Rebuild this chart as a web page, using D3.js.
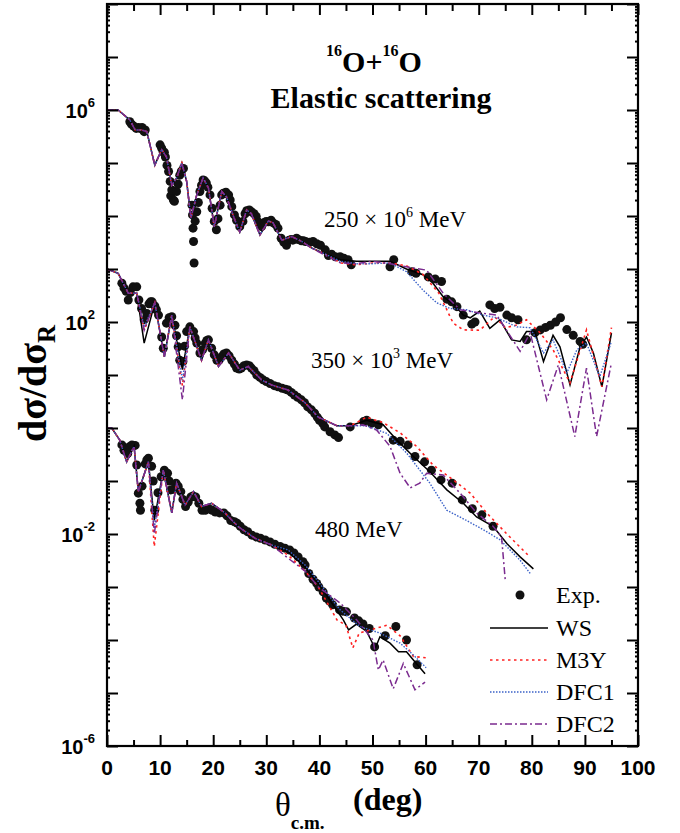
<!DOCTYPE html>
<html>
<head>
<meta charset="utf-8">
<script src="https://cdn.jsdelivr.net/npm/d3@7"></script>
<style>
  body { margin: 0; background: #fff; }
  svg text { fill: #000; }
  .tick-lab { font-family: "Liberation Sans", Arial, sans-serif; font-weight: bold; }
  .serif { font-family: "Liberation Serif", "Times New Roman", serif; }
</style>
</head>
<body>
<div class="myChart"></div>
<script>
var svgWidth = 680;
var svgHeight = 833;

// plot box in page pixels
var box = { left: 107, right: 638, top: 4, bottom: 746 };

// ---- data: [theta c.m. (deg), dsigma/dsigma_R] ----
var energies = ["250", "350", "480"];
var offsets = [1e6, 1e3, 1];

// 250 MeV
var exp250 = [[4.3,0.60],[4.6,0.54],[5.0,0.50],[5.5,0.45],[5.9,0.47],[6.2,0.45],[6.6,0.47],[7.0,0.39],[7.2,0.42],
  [10.0,0.22],[10.3,0.19],[10.6,0.16],[10.8,0.16],[11.0,0.13],[11.3,0.09],
  [11.6,0.069],[11.9,0.045],[12.0,0.024],[12.2,0.031],[12.5,0.020],[12.7,0.019],[13.1,0.029],[13.4,0.04],[13.7,0.059],
  [14.0,0.07],[14.4,0.079],[16.0,0.016],
  [16.1,0.0105],[16.2,0.0059],[16.3,0.0033],[16.4,0.0013],[16.6,0.008],[16.9,0.012],[17.2,0.018],[17.5,0.029],[17.8,0.038],
  [18.1,0.048],[18.4,0.046],[18.7,0.042],[19.0,0.035],[19.4,0.025],[19.8,0.014],[20.2,0.0079],[20.6,0.0055],[20.9,0.0089],
  [21.3,0.016],[21.6,0.025],[21.9,0.027],[22.4,0.028],[22.9,0.025],[23.2,0.020],[23.5,0.015],[24.0,0.0105],
  [24.4,0.0083],[25.0,0.0063],[25.6,0.0079],[26.0,0.011],[26.3,0.0126],[26.8,0.013],[27.2,0.012],[27.7,0.011],[28.1,0.0098],
  [28.6,0.0076],[29.1,0.0063],[29.7,0.0076],[30.0,0.0079],[30.4,0.0078],[30.9,0.0083],[31.3,0.0074],[31.8,0.0069],[32.2,0.0059],
  [32.8,0.0038],[33.3,0.0032],[33.8,0.0028],[34.3,0.0035],[34.7,0.0036],[35.0,0.0035],[35.7,0.0038],[36.0,0.0036],[36.6,0.0034],
  [37.0,0.0034],[37.4,0.0033],[38.2,0.0032],[38.8,0.0033],[39.5,0.0030],[40.2,0.0028],[41.1,0.0023],[41.7,0.0018],
  [42.3,0.0019],[43.0,0.0017],[43.9,0.0017],[44.6,0.0016],[45.4,0.0015],
  [46.0,0.0012],[53.3,0.0011],[54.0,0.0015],[57.4,8.9e-4],[58.2,8.3e-4],[60.5,7.1e-4],[61.8,6.5e-4],[63.0,5.8e-4],
  [64.0,2.7e-4],[64.9,2.4e-4],[65.9,1.95e-4],[67.1,1.35e-4],[68.7,9.1e-5],[69.3,1.0e-4],[72.1,2.1e-4],[73.0,1.8e-4],
  [74.0,1.9e-4],[75.3,1.35e-4],[76.2,1.2e-4],[77.4,1.1e-4],[79.0,4.6e-5],[80.6,6.3e-5],[81.6,7.1e-5],[82.6,7.9e-5],
  [83.5,8.7e-5],[84.5,1.0e-4],[85.4,1.2e-4],[86.6,7.2e-5],[87.8,5.6e-5],[89.1,4.3e-5],[89.6,3.8e-5]];

var fwd250 = [[0,1.0],[2.1,1.0],[4.3,0.65],[5.3,0.42],[6.5,0.42],[7.5,0.39],[9.0,0.091],[10.3,0.18],[11.2,0.13],
  [12.2,0.038],[13.1,0.052],[14.1,0.10],[15.0,0.045],[15.8,0.0091],[16.9,0.025],[18.1,0.052],[19.1,0.034],
  [20.2,0.0063],[21.6,0.029],[22.5,0.023],[24.1,0.0083],[25.0,0.0050],[26.3,0.013],[27.2,0.011],[28.8,0.0044],
  [30.4,0.0081],[31.3,0.0074],[32.9,0.0035],[34.8,0.0041],[36.7,0.0033],[38.5,0.0025]];
var ws250Tail = [[40.7,0.0020],[43.9,0.0015],[47.0,0.0014],[50.1,0.0014],[53.3,0.0014],[56.4,0.0010],[59.5,7.8e-4],
  [61.4,5.4e-4],[63.3,3.0e-4],[65.2,2.2e-4],[67.1,1.35e-4],[68.4,1.2e-4],[70.2,1.6e-4],[72.1,7.6e-5],[74.0,1.1e-4],
  [76.2,4.6e-5],[77.8,4.3e-5],[79.0,6.6e-5],[80.6,6.6e-5],[82.2,1.8e-5],[84.0,5.6e-5],[85.3,3.4e-5],[87.2,6.5e-6],
  [89.1,3.4e-5],[90.3,5.2e-5],[91.6,2.6e-5],[93.2,6.0e-6],[95.0,6.2e-5]];
var m3y250Tail = [[40.7,0.0020],[44.0,0.0013],[47.0,0.0012],[50.0,0.0013],[53.3,0.0013],[56.4,0.00115],[59.5,7.9e-4],
  [62.5,3.5e-4],[65.2,9.5e-5],[67.1,7.1e-5],[70.2,7.0e-5],[73.0,1.26e-4],[75.0,7.8e-5],[77.0,8.7e-5],[79.0,1.1e-4],
  [81.6,6.2e-5],[84.0,3.0e-5],[87.2,7.1e-6],[90.3,7.1e-5],[93.2,6.0e-6],[95.0,7.8e-5]];
var dfc1_250Tail = [[40.7,0.0020],[44.0,0.0014],[47.0,0.00126],[50.0,0.00126],[53.3,0.0013],[56.4,8.9e-4],[59.5,4.0e-4],
  [62.1,2.3e-4],[64.6,1.8e-4],[67.7,1.7e-4],[70.8,1.35e-4],[73.4,1.2e-4],[77.2,8.1e-5],[79.7,7.8e-5],[82.2,2.6e-5],
  [84.0,4.6e-5],[86.6,1.1e-5],[88.5,3.0e-5],[90.3,4.0e-5],[92.8,9.3e-6],[95.0,4.3e-5]];
var dfc2_250Tail = [[40.7,0.0019],[44.0,0.0013],[47.0,0.00126],[50.0,0.0014],[53.3,0.00126],[56.4,0.0011],[60.2,9.5e-4],
  [63.3,3.5e-4],[66.5,1.7e-4],[70.0,1.5e-4],[73.4,1.35e-4],[77.8,2.8e-5],[79.7,6.2e-5],[82.8,3.4e-6],[85.0,1.55e-5],
  [88.1,6.9e-7],[90.3,1.35e-5],[92.2,6.9e-7],[95.0,1.7e-5]];

// 350 MeV
var exp350 = [[2.8,0.54],[3.2,0.44],[3.6,0.38],[4.0,0.26],[4.4,0.36],[4.9,0.46],[5.6,0.46],[6.0,0.26],[6.5,0.18],[7.0,0.11],[7.5,0.145],
  [7.9,0.22],[8.2,0.24],[8.5,0.24],[9.0,0.20],[9.3,0.17],[9.7,0.135],[10.3,0.052],[10.6,0.032],[11.2,0.095],[11.7,0.12],
  [12.2,0.126],[12.8,0.087],[13.1,0.055],[13.4,0.034],
  [13.7,0.019],[14.3,0.018],[14.6,0.035],[15.0,0.066],[15.6,0.081],[16.3,0.066],[16.6,0.050],[16.9,0.040],[17.5,0.026],
  [18.0,0.030],[18.5,0.040],[18.8,0.045],
  [19.1,0.046],[19.7,0.032],[20.2,0.024],[20.7,0.019],[21.1,0.019],[21.6,0.022],[22.0,0.025],[22.5,0.026],[23.0,0.023],
  [23.5,0.019],[24.0,0.016],[24.4,0.0135],[24.9,0.013],[25.3,0.0135],[25.8,0.015],
  [26.3,0.0155],[26.8,0.015],[27.2,0.0135],[27.7,0.012],[28.2,0.010],[28.8,0.009],[29.4,0.0081],[30.0,0.0075],[30.7,0.0069],
  [31.5,0.0063],[32.2,0.0060],[33.0,0.0056],[33.6,0.0054],
  [34.1,0.0052],[34.7,0.0047],[35.3,0.0042],[35.9,0.0038],[36.6,0.0034],[37.2,0.0030],[37.8,0.0025],[38.5,0.0022],[39.1,0.0019],
  [39.6,0.0016],[40.0,0.0014],[40.6,0.00123],
  [41.0,0.00105],[42.0,8.5e-4],[42.9,7.4e-4],[43.6,6.6e-4],[45.8,0.00105],[48.3,0.00132],[48.9,0.0014],
  [49.8,0.00123],[51.1,0.00115],[53.9,5.9e-4],[55.2,5.6e-4],[56.7,4.8e-4],[58.0,2.9e-4],[59.8,2.3e-4],[61.1,1.6e-4],
  [62.9,1.05e-4],[65.0,9.1e-5],[66.9,4.4e-5],[68.8,3.0e-5],[70.6,2.3e-5],[72.7,1.4e-5]];

var fwd350 = [[0,1.0],[2.1,0.83],[4.0,0.35],[5.6,0.35],[9.0,0.23],[10.8,0.022],[12.2,0.135],[15.6,0.081],
  [17.8,0.019],[19.1,0.046],[21.0,0.0145],[22.9,0.026],[25.0,0.0123],[26.6,0.0145],[29.1,0.0081],[31.0,0.0065],
  [34.1,0.0052],[37.3,0.0030],[39.8,0.0016],[43.3,0.0011],[45.8,0.0011]];
var wsDip350 = [[7.0,0.040],[14.2,0.0126]];
var m3yDip350 = [[7.0,0.07],[14.2,0.0063]];
var dfc1Dip350 = [[7.0,0.08],[14.2,0.0079]];
var dfc2Dip350 = [[7.0,0.07],[14.2,0.0034]];
var ws350Tail = [[48.9,0.0014],[52.0,0.00115],[54.6,5.9e-4],[57.7,2.9e-4],[60.8,1.5e-4],[64.0,6.8e-5],[67.1,3.8e-5],
  [69.6,2.1e-5],[72.7,1.4e-5],[75.3,6.6e-6],[77.8,3.7e-6],[80.3,2.2e-6]];
var m3y350Tail = [[48.9,0.0016],[52.0,0.00126],[55.2,8.1e-4],[58.3,4.5e-4],[61.4,2.0e-4],[65.2,1.05e-4],[68.4,5.9e-5],
  [71.5,2.5e-5],[75.3,1.0e-5],[79.3,4.0e-6]];
var dfc1_350Tail = [[48.9,0.0011],[52.7,7.9e-4],[56.4,3.4e-4],[60.8,9.1e-5],[64.0,2.8e-5],[67.7,1.8e-5],[70.9,1.2e-5],
  [74.0,7.8e-6],[77.8,3.2e-6],[79.7,1.8e-6]];
var dfc2_350Tail = [[48.2,0.00115],[50.8,9.1e-4],[53.3,4.5e-4],[55.2,1.4e-4],[57.1,7.4e-5],[58.9,9.1e-5],[60.2,1.4e-4],
  [63.3,1.3e-4],[66.5,5.9e-5],[69.6,2.5e-5],[72.7,1.4e-5],[74.3,8.9e-6],[75.0,1.35e-6]];

// 480 MeV
var exp480 = [[2.8,0.48],[3.2,0.38],[3.9,0.33],[4.3,0.45],[4.7,0.48],[5.3,0.47],[5.6,0.20],[5.9,0.059],[6.2,0.038],[6.3,0.028],
  [6.6,0.08],[7.2,0.21],[7.5,0.25],
  [7.8,0.27],[8.4,0.19],[8.7,0.10],[9.0,0.028],[9.6,0.06],[10.2,0.12],[10.8,0.16],[11.4,0.14],[11.7,0.10],[12.0,0.068],
  [12.5,0.07],[13.0,0.091],[13.4,0.08],[13.9,0.063],[14.3,0.045],
  [14.8,0.033],[15.3,0.040],[15.8,0.050],[16.2,0.052],[16.7,0.050],[17.3,0.038],[17.9,0.028],[18.5,0.028],[19.2,0.030],
  [19.8,0.028],[20.4,0.026],[21.2,0.025],[22.0,0.025],[22.6,0.022],[23.3,0.018],[24.0,0.017],
  [24.5,0.016],[25.1,0.014],[25.8,0.012],[26.5,0.011],[27.3,0.0095],[28.1,0.0088],[28.9,0.0083],[29.8,0.0077],[30.7,0.0071],
  [31.6,0.0064],[32.6,0.0058],[33.5,0.0054],[34.4,0.0050],[35.2,0.0044],[36.0,0.0037],
  [36.9,0.0030],[37.3,0.0026],[38.0,0.0018],[38.8,0.0014],[39.5,0.00117],[39.9,0.0010],[40.7,8.1e-4],[41.3,6.2e-4],
  [41.9,5.4e-4],[42.5,4.6e-4],[43.8,3.7e-4],[44.4,3.5e-4],
  [45.1,3.4e-4],[46.6,2.6e-4],[47.4,2.3e-4],[48.2,2.0e-4],[49.4,1.65e-4],[50.4,7.4e-5],[52.4,1.2e-4],[54.4,1.8e-4],[56.4,1.0e-4],
  [58.4,3.4e-5]];

var fwd480 = [[0,1.0],[0.9,1.0],[2.4,0.59],[3.7,0.23],[5.1,0.45],[5.9,0.063],[7.8,0.23],[10.6,0.16],[12.2,0.025],
  [13.1,0.091],[14.7,0.035],[16.3,0.063],[17.8,0.033],[19.7,0.038],[22.2,0.025],[24.7,0.0138],[27.9,0.0083],
  [31.0,0.0062]];
var wsDip480 = [[8.9,0.018]];
var m3yDip480 = [[8.9,0.0058]];
var dfc1Dip480 = [[8.9,0.0126]];
var dfc2Dip480 = [[8.9,0.010]];
var ws480Tail = [[34.1,0.0047],[37.3,0.0024],[39.8,0.00117],[42.0,5.6e-4],[44.5,2.4e-4],[45.5,1.55e-4],[47.0,2.0e-4],
  [48.9,1.45e-4],[50.5,6.9e-5],[51.4,1.15e-4],[53.3,8.7e-5],[54.9,6.0e-5],[56.4,6.0e-5],[57.7,4.2e-5],[59.9,2.3e-5]];
var m3y480Tail = [[34.1,0.0040],[37.3,0.0020],[39.8,0.0010],[43.3,2.4e-4],[45.0,1.9e-4],[46.3,7.1e-5],[47.5,1.35e-4],
  [49.6,1.55e-4],[52.7,1.9e-4],[55.2,1.2e-4],[57.7,4.9e-5],[60.1,4.6e-5]];
var dfc1_480Tail = [[34.1,0.0050],[37.3,0.0026],[39.8,0.00126],[43.9,3.7e-4],[47.6,1.8e-4],[51.4,1.35e-4],[55.2,8.7e-5],
  [57.7,5.2e-5],[60.1,3.0e-5]];
var dfc2_480Tail = [[34.1,0.0035],[37.3,0.0020],[39.8,0.0010],[43.9,5.0e-4],[47.0,2.4e-4],[50.1,1.0e-4],[51.1,2.7e-5],
  [52.0,4.2e-5],[53.9,1.2e-5],[55.8,3.6e-5],[58.0,1.15e-5],[59.9,1.6e-5]];

var xTicks = [0, 10, 20, 30, 40, 50, 60, 70, 80, 90, 100];
var yLabelExps = [-6, -2, 2, 6];
var legendNames = ["Exp.", "WS", "M3Y", "DFC1", "DFC2"];

// ---- build series ----
function byTheta(a, b) { return a[0] - b[0]; }
function joined() { return [].concat.apply([], arguments).sort(byTheta); }

var models = [
  { name: "WS",   color: "#000000", dash: null,        width: 1.5,
    sets: [joined(fwd250, ws250Tail), joined(fwd350, wsDip350, ws350Tail), joined(fwd480, wsDip480, ws480Tail)] },
  { name: "M3Y",  color: "#ff2020", dash: "2.5,3.5",   width: 1.6,
    sets: [joined(fwd250, m3y250Tail), joined(fwd350, m3yDip350, m3y350Tail), joined(fwd480, m3yDip480, m3y480Tail)] },
  { name: "DFC1", color: "#3b62c8", dash: "1.5,1.5",   width: 1.4,
    sets: [joined(fwd250, dfc1_250Tail), joined(fwd350, dfc1Dip350, dfc1_350Tail), joined(fwd480, dfc1Dip480, dfc1_480Tail)] },
  { name: "DFC2", color: "#7b2b8f", dash: "7,3,2,3",   width: 1.5,
    sets: [joined(fwd250, dfc2_250Tail), joined(fwd350, dfc2Dip350, dfc2_350Tail), joined(fwd480, dfc2Dip480, dfc2_480Tail)] }
];
var expSets = [exp250, exp350, exp480];

var svg = d3.select(".myChart")
  .append("svg")
  .attr("width", svgWidth)
  .attr("height", svgHeight);

var x = d3.scaleLinear().domain([0, 100]).range([box.left, box.right]);
var y = d3.scaleLog().domain([1e-6, 1e8]).range([box.bottom, box.top]);

// experimental points
expSets.forEach(function(set, i) {
  svg.append("g").selectAll("circle")
    .data(set)
    .enter().append("circle")
    .attr("cx", function(d) { return x(d[0]); })
    .attr("cy", function(d) { return y(d[1] * offsets[i]); })
    .attr("r", 4.5)
    .attr("fill", "#111");
});

// model curves
models.forEach(function(m) {
  m.sets.forEach(function(set, i) {
    var line = d3.line()
      .x(function(d) { return x(d[0]); })
      .y(function(d) { return y(d[1] * offsets[i]); });
    svg.append("path")
      .datum(set)
      .attr("d", line)
      .attr("fill", "none")
      .attr("stroke", m.color)
      .attr("stroke-width", m.width)
      .attr("stroke-dasharray", m.dash);
  });
});

// ---- axes (ticks inward on all four sides) ----
var minorX = d3.range(5, 100, 10);
var majorY = d3.range(-6, 9).map(function(e) { return Math.pow(10, e); });
var minorY = [];
d3.range(-6, 8).forEach(function(e) {
  for (var k = 2; k <= 9; k++) minorY.push(k * Math.pow(10, e));
});

function styleAxis(g) {
  g.select(".domain").remove();
  g.selectAll("line").attr("stroke", "#000").attr("stroke-width", 2);
}

svg.append("g").attr("transform", "translate(0," + box.bottom + ")")
  .call(d3.axisBottom(x).tickValues(xTicks).tickSize(-11).tickFormat("")).call(styleAxis);
svg.append("g").attr("transform", "translate(0," + box.bottom + ")")
  .call(d3.axisBottom(x).tickValues(minorX).tickSize(-6).tickFormat("")).call(styleAxis);
svg.append("g").attr("transform", "translate(0," + box.top + ")")
  .call(d3.axisTop(x).tickValues(xTicks).tickSize(-11).tickFormat("")).call(styleAxis);
svg.append("g").attr("transform", "translate(0," + box.top + ")")
  .call(d3.axisTop(x).tickValues(minorX).tickSize(-7).tickFormat("")).call(styleAxis);

svg.append("g").attr("transform", "translate(" + box.left + ",0)")
  .call(d3.axisLeft(y).tickValues(majorY).tickSize(-11).tickFormat("")).call(styleAxis);
svg.append("g").attr("transform", "translate(" + box.left + ",0)")
  .call(d3.axisLeft(y).tickValues(minorY).tickSize(-3).tickFormat("")).call(styleAxis);
svg.append("g").attr("transform", "translate(" + box.right + ",0)")
  .call(d3.axisRight(y).tickValues(majorY).tickSize(-11).tickFormat("")).call(styleAxis);
svg.append("g").attr("transform", "translate(" + box.right + ",0)")
  .call(d3.axisRight(y).tickValues(minorY).tickSize(-3).tickFormat("")).call(styleAxis);

svg.append("rect")
  .attr("x", box.left).attr("y", box.top)
  .attr("width", box.right - box.left).attr("height", box.bottom - box.top)
  .attr("fill", "none").attr("stroke", "#000").attr("stroke-width", 2.2);

// tick labels
svg.append("g").selectAll("text")
  .data(xTicks)
  .enter().append("text")
  .attr("class", "tick-lab")
  .attr("x", function(d) { return x(d); })
  .attr("y", 775)
  .attr("text-anchor", "middle")
  .attr("font-size", 21)
  .text(function(d) { return d; });

var yl = svg.append("g").selectAll("text")
  .data(yLabelExps)
  .enter().append("text")
  .attr("class", "tick-lab")
  .attr("x", 95)
  .attr("y", function(d) { return y(Math.pow(10, d)) + 8; })
  .attr("text-anchor", "end")
  .attr("font-size", 20);
yl.append("tspan").text("10");
yl.append("tspan").attr("font-size", 13).attr("dy", -11).text(function(d) { return d; });

// axis titles
var xt = svg.append("text").attr("class", "serif").attr("x", 275).attr("y", 816);
xt.append("tspan").attr("font-size", 33).text("θ");
xt.append("tspan").attr("font-size", 19).attr("font-weight", "bold").attr("dy", 13).text("c.m.");
svg.append("text").attr("class", "serif")
  .attr("x", 353).attr("y", 810)
  .attr("font-size", 32).attr("font-weight", "bold")
  .text("(deg)");

var yt = svg.append("text").attr("class", "serif")
  .attr("transform", "translate(46,442) rotate(-90)")
  .attr("font-weight", "bold");
yt.append("tspan").attr("font-size", 40).text("dσ/dσ");
yt.append("tspan").attr("font-size", 25).attr("dy", 9).text("R");

// title
var t1 = svg.append("text").attr("class", "serif")
  .attr("x", 374).attr("y", 72).attr("text-anchor", "middle").attr("font-weight", "bold");
t1.append("tspan").attr("font-size", 16).attr("dy", -16).text("16");
t1.append("tspan").attr("font-size", 30).attr("dy", 16).text("O+");
t1.append("tspan").attr("font-size", 16).attr("dy", -16).text("16");
t1.append("tspan").attr("font-size", 30).attr("dy", 16).text("O");
svg.append("text").attr("class", "serif")
  .attr("x", 381).attr("y", 108).attr("text-anchor", "middle")
  .attr("font-size", 30).attr("font-weight", "bold")
  .text("Elastic scattering");

// energy labels
var energyPos = [[324, 227, "6"], [311, 368, "3"], [315, 537, null]];
energies.forEach(function(e, i) {
  var p = energyPos[i];
  var t = svg.append("text").attr("class", "serif")
    .attr("x", p[0]).attr("y", p[1]).attr("font-size", 23);
  if (p[2]) {
    t.append("tspan").text(e + " \u00d7 10");
    t.append("tspan").attr("font-size", 14).attr("dy", -10).text(p[2]);
    t.append("tspan").attr("dy", 10).text(" MeV");
  } else {
    t.text(e + " MeV");
  }
});

// legend
var legendY = [595, 628, 660, 692, 724];
var lg = svg.append("g");
lg.append("circle").attr("cx", 520).attr("cy", legendY[0]).attr("r", 4.5).attr("fill", "#111");
models.forEach(function(m, i) {
  lg.append("line")
    .attr("x1", 490).attr("x2", 548)
    .attr("y1", legendY[i + 1]).attr("y2", legendY[i + 1])
    .attr("stroke", m.color).attr("stroke-width", m.width)
    .attr("stroke-dasharray", m.dash);
});
legendNames.forEach(function(n, i) {
  lg.append("text").attr("class", "serif")
    .attr("x", 556).attr("y", legendY[i] + 8)
    .attr("font-size", 24)
    .text(n);
});
</script>
</body>
</html>
